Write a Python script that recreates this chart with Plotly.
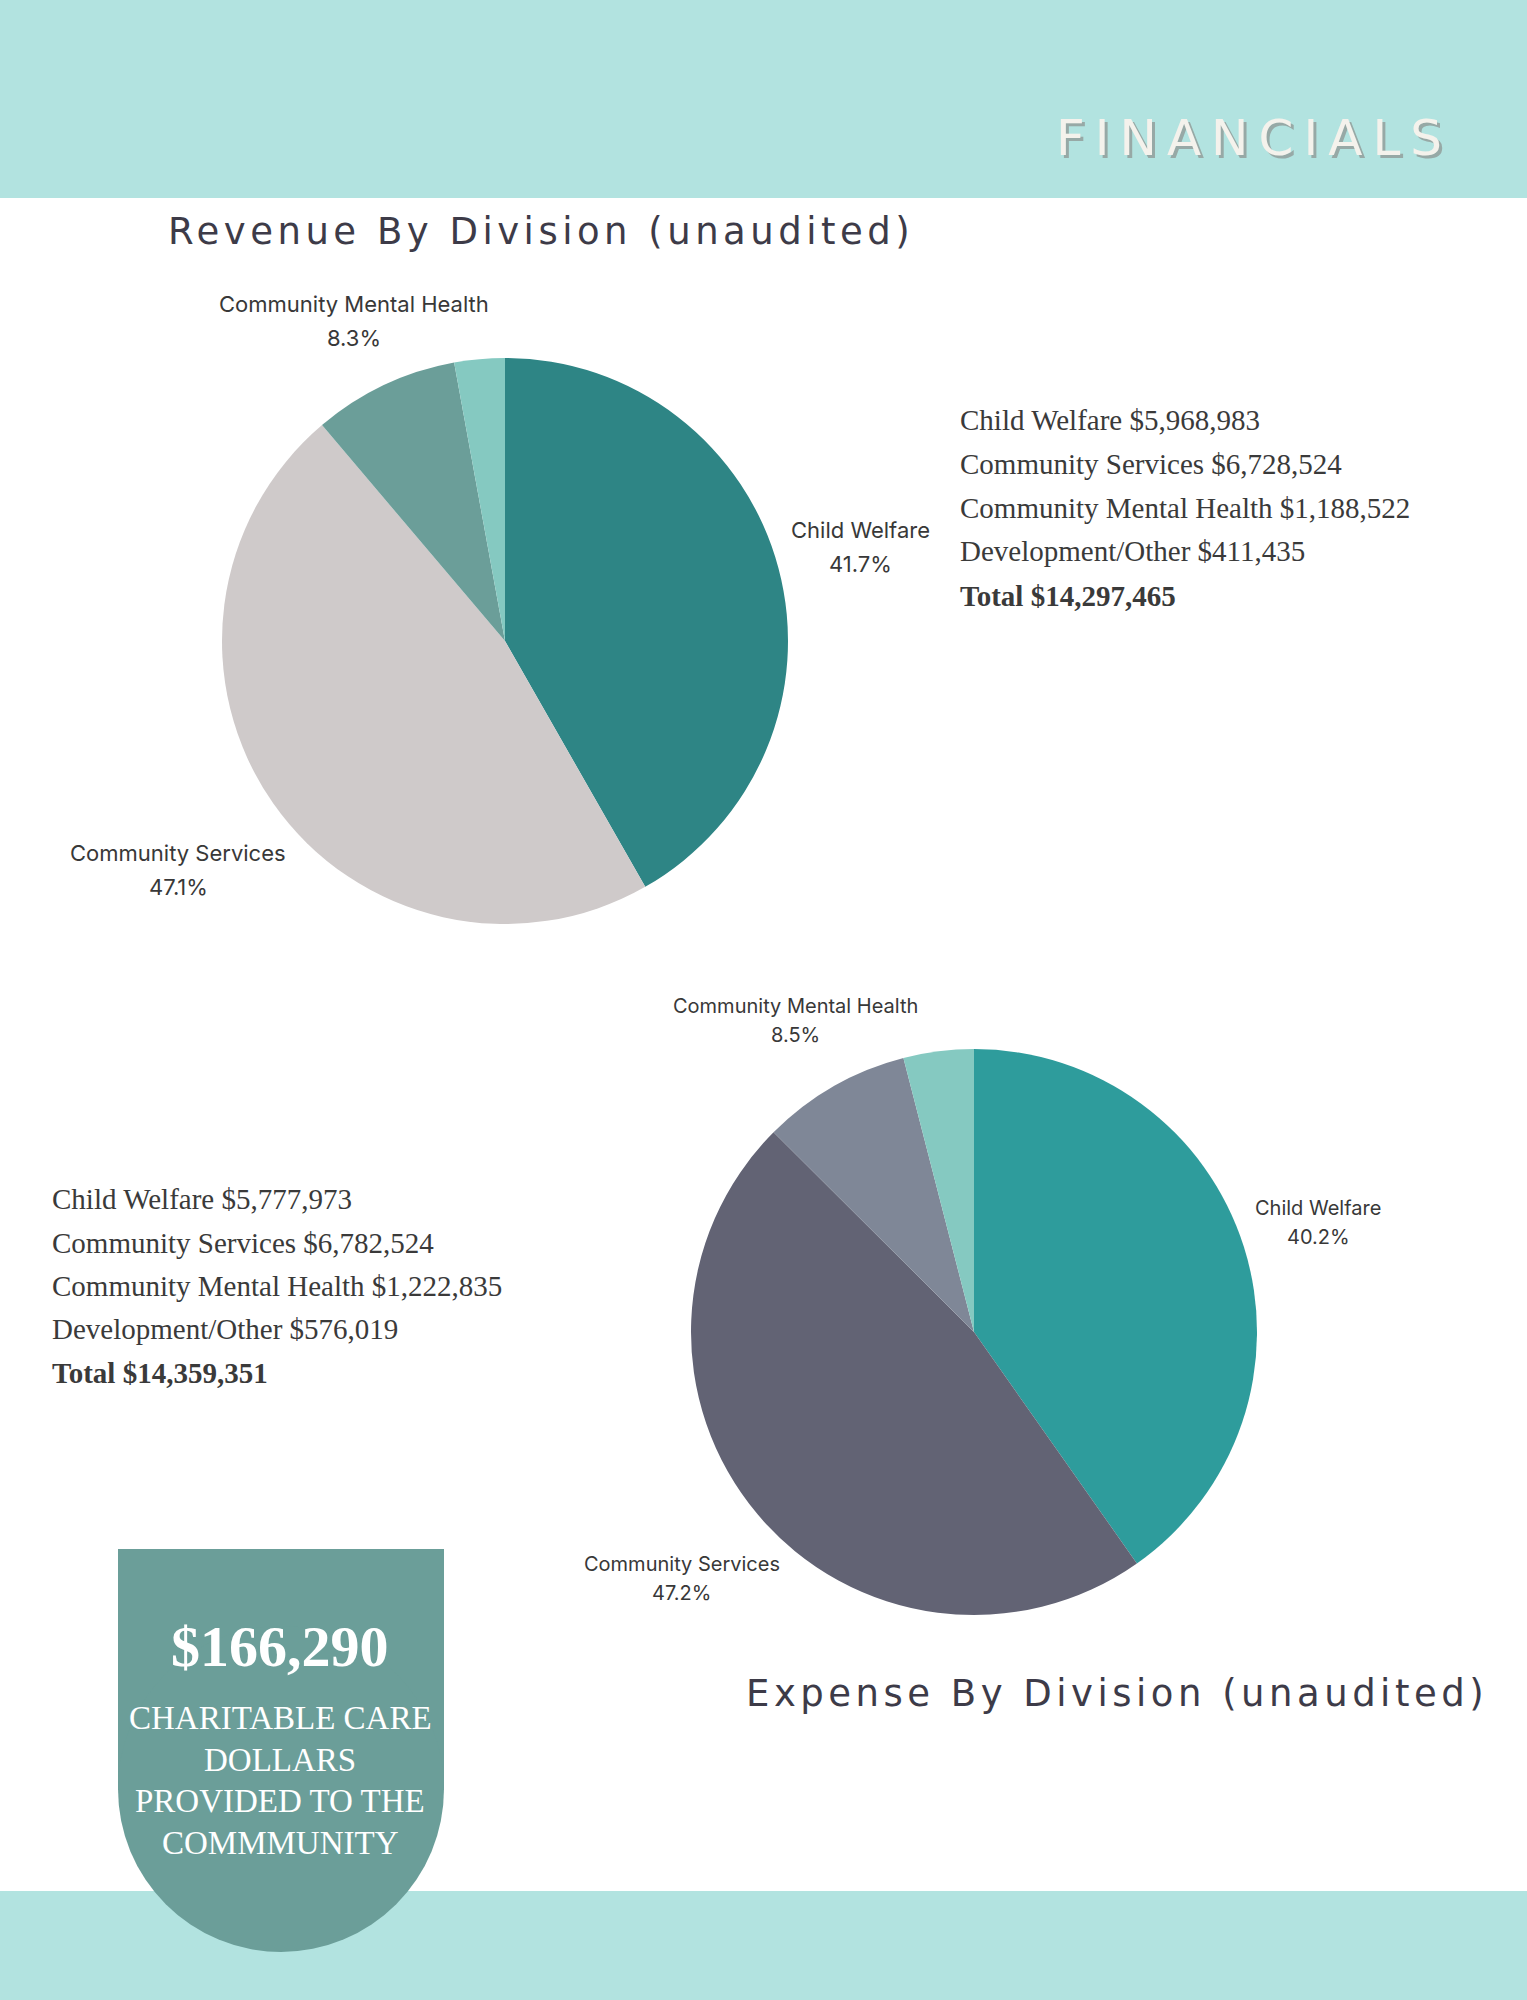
import math
import plotly.graph_objects as go

W, H = 1527, 2000

# ---------------- data ----------------
categories = ["Child Welfare", "Community Services", "Community Mental Health", "Development/Other"]
revenue_values = [5968983, 6728524, 1188522, 411435]
revenue_total = 14297465
expense_values = [5777973, 6782524, 1222835, 576019]
expense_total = 14359351
charitable_care = 166290
charitable_lines = ["CHARITABLE CARE", "DOLLARS", "PROVIDED TO THE", "COMMMUNITY"]
shown_labels = [True, True, True, False]

page_title = "FINANCIALS"
revenue_title = "Revenue By Division (unaudited)"
expense_title = "Expense By Division (unaudited)"

# ---------------- styles ----------------
revenue_colors = ["#2e8585", "#cfcaca", "#6b9e99", "#85c9c1"]
expense_colors = ["#2e9c9c", "#626374", "#7f8797", "#85c9c1"]
band_color = "#b2e3e0"
box_color = "#6b9e99"
dark = "#3d3b48"
label_color = "#383838"
serif = "Liberation Serif"

# label distance from pie centre, as a multiple of the radius (layout style)
revenue_label_dist = [1.30, 1.41, 1.25, 1.3]
expense_label_dist = [1.276, 1.35, 1.27, 1.3]


def px(x):
    return x / W


def py(y):
    return 1 - y / H


def pie_domain(cx, cy, r):
    return dict(x=[px(cx - r), px(cx + r)], y=[py(cy + r), py(cy - r)])


REV = dict(cx=505, cy=641, r=283)
EXP = dict(cx=974, cy=1332, r=283)

fig = go.Figure()
fig.add_trace(go.Pie(
    labels=categories, values=revenue_values, sort=False, direction="clockwise", rotation=0,
    marker=dict(colors=revenue_colors, line=dict(width=0)), textinfo="none",
    domain=pie_domain(REV["cx"], REV["cy"], REV["r"]), showlegend=False, hoverinfo="skip",
))
fig.add_trace(go.Pie(
    labels=categories, values=expense_values, sort=False, direction="clockwise", rotation=0,
    marker=dict(colors=expense_colors, line=dict(width=0)), textinfo="none",
    domain=pie_domain(EXP["cx"], EXP["cy"], EXP["r"]), showlegend=False, hoverinfo="skip",
))

shapes = [
    dict(type="rect", xref="paper", yref="paper", x0=0, x1=1, y0=py(198), y1=1,
         fillcolor=band_color, line=dict(width=0), layer="below"),
    dict(type="rect", xref="paper", yref="paper", x0=0, x1=1, y0=0, y1=py(1891),
         fillcolor=band_color, line=dict(width=0), layer="below"),
    dict(type="rect", xref="paper", yref="paper", x0=px(118), x1=px(444), y0=py(1790), y1=py(1549),
         fillcolor=box_color, line=dict(width=0), layer="below"),
    dict(type="circle", xref="paper", yref="paper", x0=px(118), x1=px(444), y0=py(1952), y1=py(1626),
         fillcolor=box_color, line=dict(width=0), layer="below"),
]

ann = []


def add_text(text, x, y, size, color, family, xanchor="left", weight="normal", shadow="none", align="center"):
    ann.append(dict(text=text, x=px(x), y=py(y), xref="paper", yref="paper",
                    xanchor=xanchor, yanchor="middle", showarrow=False, align=align,
                    font=dict(family=family, size=size, color=color, weight=weight, shadow=shadow)))


def pie_labels(geo, values, dists, size, gap):
    total = sum(values)
    cum = 0.0
    for cat, v, show, d in zip(categories, values, shown_labels, dists):
        frac = v / total
        mid = (cum + frac / 2) * 2 * math.pi
        cum += frac
        if not show:
            continue
        R = geo["r"] * d
        x = geo["cx"] + R * math.sin(mid)
        y = geo["cy"] - R * math.cos(mid)
        add_text(cat, x, y - gap / 2, size, label_color, "Inter", xanchor="center")
        add_text(f"{frac * 100:.1f}%", x, y + gap / 2, size, label_color, "Inter", xanchor="center")


pie_labels(REV, revenue_values, revenue_label_dist, 22, 34)
pie_labels(EXP, expense_values, expense_label_dist, 20, 29)

add_text(page_title, 1054, 138, 50, "#f4f2ec", "DejaVu Sans", xanchor="left", align="left",
         shadow="3px 3px 0px #97a9a6")
add_text(revenue_title, 166, 232, 37, dark, "DejaVu Sans", align="left")
add_text(expense_title, 744, 1693, 37, dark, "DejaVu Sans", align="left")

rev_lines = [f"{c} ${v:,}" for c, v in zip(categories, revenue_values)]
exp_lines = [f"{c} ${v:,}" for c, v in zip(categories, expense_values)]
rev_y = [420, 464, 508, 551, 596]
exp_y = [1199, 1243, 1286, 1329, 1373]
for t, y in zip(rev_lines, rev_y[:4]):
    add_text(t, 958, y, 29, "#3a3a3a", serif)
add_text(f"Total ${revenue_total:,}", 958, rev_y[4], 29, "#3a3a3a", serif, weight="bold")
for t, y in zip(exp_lines, exp_y[:4]):
    add_text(t, 50, y, 29, "#3a3a3a", serif)
add_text(f"Total ${expense_total:,}", 50, exp_y[4], 29, "#3a3a3a", serif, weight="bold")

add_text(f"${charitable_care:,}", 280, 1646, 58, "white", serif, xanchor="center", weight="bold")
for t, y in zip(charitable_lines, [1718, 1760, 1801, 1843]):
    add_text(t, 280, y, 33, "white", serif, xanchor="center")

fig.update_layout(
    width=W, height=H, margin=dict(l=0, r=0, t=0, b=0),
    paper_bgcolor="white", plot_bgcolor="white",
    shapes=shapes, annotations=ann, showlegend=False,
)

post = """
document.body.style.margin = '0';
var sp = {};
sp[%r] = '10px';
sp[%r] = '4.5px';
sp[%r] = '4.5px';
document.querySelectorAll('text.annotation-text').forEach(function(t) {
    if (sp[t.textContent]) { t.style.letterSpacing = sp[t.textContent]; }
});
""" % (page_title, revenue_title, expense_title)

fig.write_html("out.html", post_script=post, config={"displayModeBar": False})
